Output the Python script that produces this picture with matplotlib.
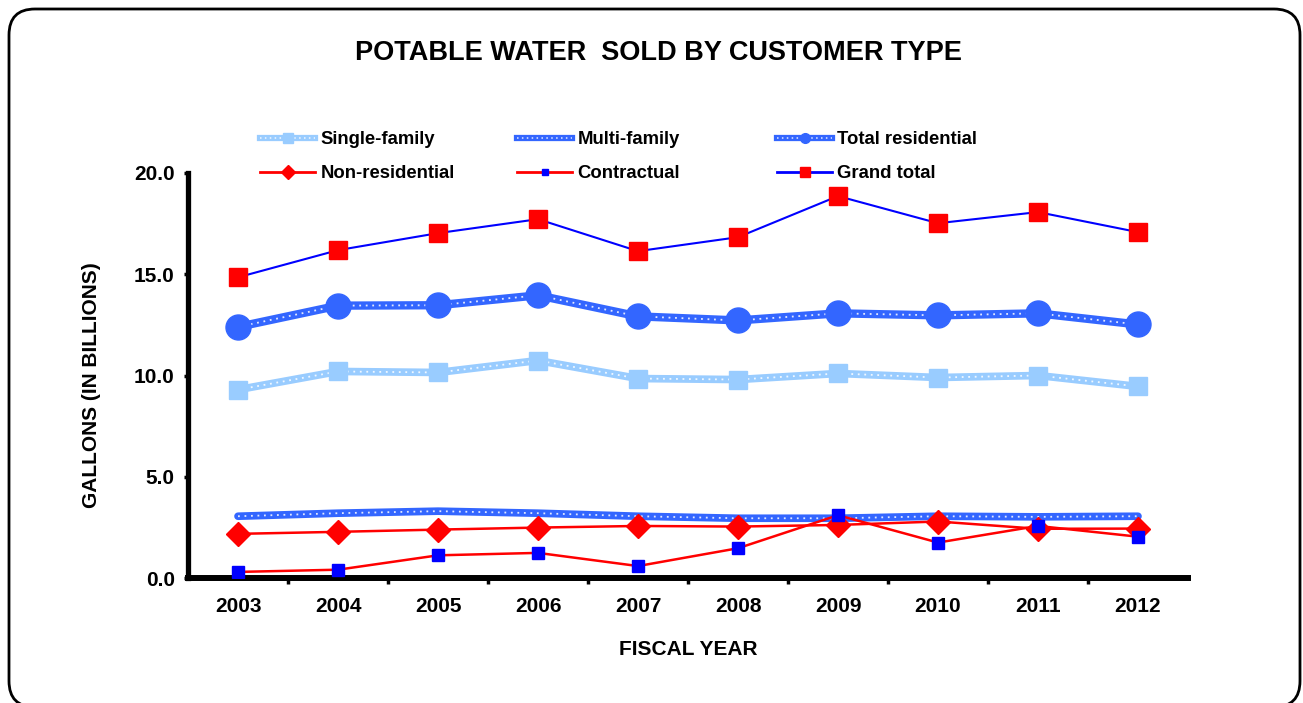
import matplotlib
matplotlib.use("Agg")
import matplotlib.pyplot as plt
from matplotlib.lines import Line2D
from matplotlib.patches import FancyBboxPatch
from matplotlib.legend_handler import HandlerTuple

years = [2003, 2004, 2005, 2006, 2007, 2008, 2009, 2010, 2011, 2012]
single_family = [9.30, 10.20, 10.15, 10.74, 9.85, 9.80, 10.10, 9.90, 10.00, 9.46]
multi_family = [3.05, 3.20, 3.30, 3.20, 3.05, 2.95, 2.95, 3.05, 3.02, 3.05]
total_residential = [12.40, 13.45, 13.47, 13.96, 12.92, 12.72, 13.07, 12.97, 13.07, 12.52]
non_residential = [2.18, 2.28, 2.39, 2.49, 2.57, 2.54, 2.62, 2.79, 2.43, 2.44]
contractual = [0.30, 0.41, 1.12, 1.24, 0.59, 1.47, 3.10, 1.75, 2.57, 2.04]
grand_total = [14.85, 16.19, 17.03, 17.72, 16.14, 16.83, 18.86, 17.52, 18.07, 17.08]

plt.rcParams['font.family'] = ['Liberation Sans', 'DejaVu Sans']
plt.rcParams['font.weight'] = 'bold'

LIGHT = '#99CCFF'
MID = '#3366FF'
W, H = 1303, 703

fig = plt.figure(figsize=(W / 100, H / 100), dpi=100)

# background axes in pixel units, holds the rounded frame
bg = fig.add_axes([0, 0, 1, 1], zorder=-1)
bg.set_xlim(0, W)
bg.set_ylim(0, H)
bg.axis('off')
bg.add_patch(FancyBboxPatch((9, -4), 1291, H - 9 + 4,
                            boxstyle="round,pad=0,rounding_size=26",
                            facecolor='none', edgecolor='black', linewidth=2))

ax = fig.add_axes([188 / W, 1 - 578 / H, 1000 / W, 405 / H])
ax.patch.set_alpha(0)


def dotted_line(x, y, color, lw, marker=None, ms=0):
    ax.plot(x, y, color=color, lw=lw, solid_capstyle='round', zorder=2)
    ax.plot(x, y, color='white', lw=1.3, ls=(0, (1, 2.6)), alpha=0.85, zorder=3)
    if marker:
        ax.plot(x, y, ls='none', marker=marker, ms=ms, color=color, zorder=4)


dotted_line(years, single_family, LIGHT, 5.5, 's', 13)
dotted_line(years, multi_family, MID, 5.5)
dotted_line(years, total_residential, MID, 6.0, 'o', 18)
ax.plot(years, non_residential, color='red', lw=1.8, marker='D', ms=12,
        mfc='red', mec='red', zorder=5)
ax.plot(years, contractual, color='red', lw=1.8, marker='s', ms=8,
        mfc='blue', mec='blue', zorder=5)
ax.plot(years, grand_total, color='blue', lw=1.5, marker='s', ms=13,
        mfc='red', mec='red', zorder=5)

ax.set_xlim(2002.5, 2012.5)
ax.set_ylim(0, 20)
ax.set_xticks(years)
ax.set_xticks([y + 0.5 for y in years[:-1]], minor=True)
ax.set_yticks([0, 5, 10, 15, 20])
ax.set_yticklabels(['0.0', '5.0', '10.0', '15.0', '20.0'])
ax.tick_params(axis='x', which='major', length=0, pad=14, labelsize=15)
ax.tick_params(axis='x', which='minor', length=4, width=2.5, direction='out')
ax.tick_params(axis='y', length=3, width=2.5, pad=6.5, labelsize=15)
for side in ['top', 'right']:
    ax.spines[side].set_visible(False)
ax.spines['left'].set_linewidth(3.8)
ax.spines['bottom'].set_linewidth(4.3)

ax.set_xlabel('FISCAL YEAR', fontsize=15, fontweight='bold', labelpad=17)
ax.set_ylabel('GALLONS (IN BILLIONS)', fontsize=15, fontweight='bold', labelpad=24)
ax.yaxis.label.set_y(0.4765)

fig.text(0.505, 1 - 53 / H, 'POTABLE WATER  SOLD BY CUSTOMER TYPE',
         ha='center', va='center', fontsize=19.5, fontweight='bold')


# legend handles are built from proxies with smaller markers
def dotted_handle(color, marker=None):
    parts = [Line2D([], [], color=color, lw=4.5),
             Line2D([], [], color='white', lw=1.1, ls=(0, (1, 2.2)), alpha=0.85)]
    if marker:
        parts.append(Line2D([], [], ls='none', marker=marker, ms=7, color=color))
    return tuple(parts)


columns = [
    ([dotted_handle(LIGHT, 's'),
      Line2D([], [], color='red', lw=2, marker='D', ms=7)],
     ['Single-family', 'Non-residential'], 260),
    ([dotted_handle(MID),
      Line2D([], [], color='red', lw=2, marker='s', ms=5, mfc='blue', mec='blue')],
     ['Multi-family', 'Contractual'], 517),
    ([dotted_handle(MID, 'o'),
      Line2D([], [], color='blue', lw=2, marker='s', ms=7, mfc='red', mec='red')],
     ['Total residential', 'Grand total'], 777),
]
for handles, labels, xpix in columns:
    fig.legend(handles, labels, loc='upper left',
               bbox_to_anchor=(xpix / W, 1 - 131 / H),
               frameon=False, fontsize=13.3, handlelength=3.0,
               handletextpad=0.27, labelspacing=0.94, borderpad=0,
               borderaxespad=0, numpoints=1,
               handler_map={tuple: HandlerTuple(ndivide=1, pad=0)})

fig.savefig('out.png', dpi=100)
